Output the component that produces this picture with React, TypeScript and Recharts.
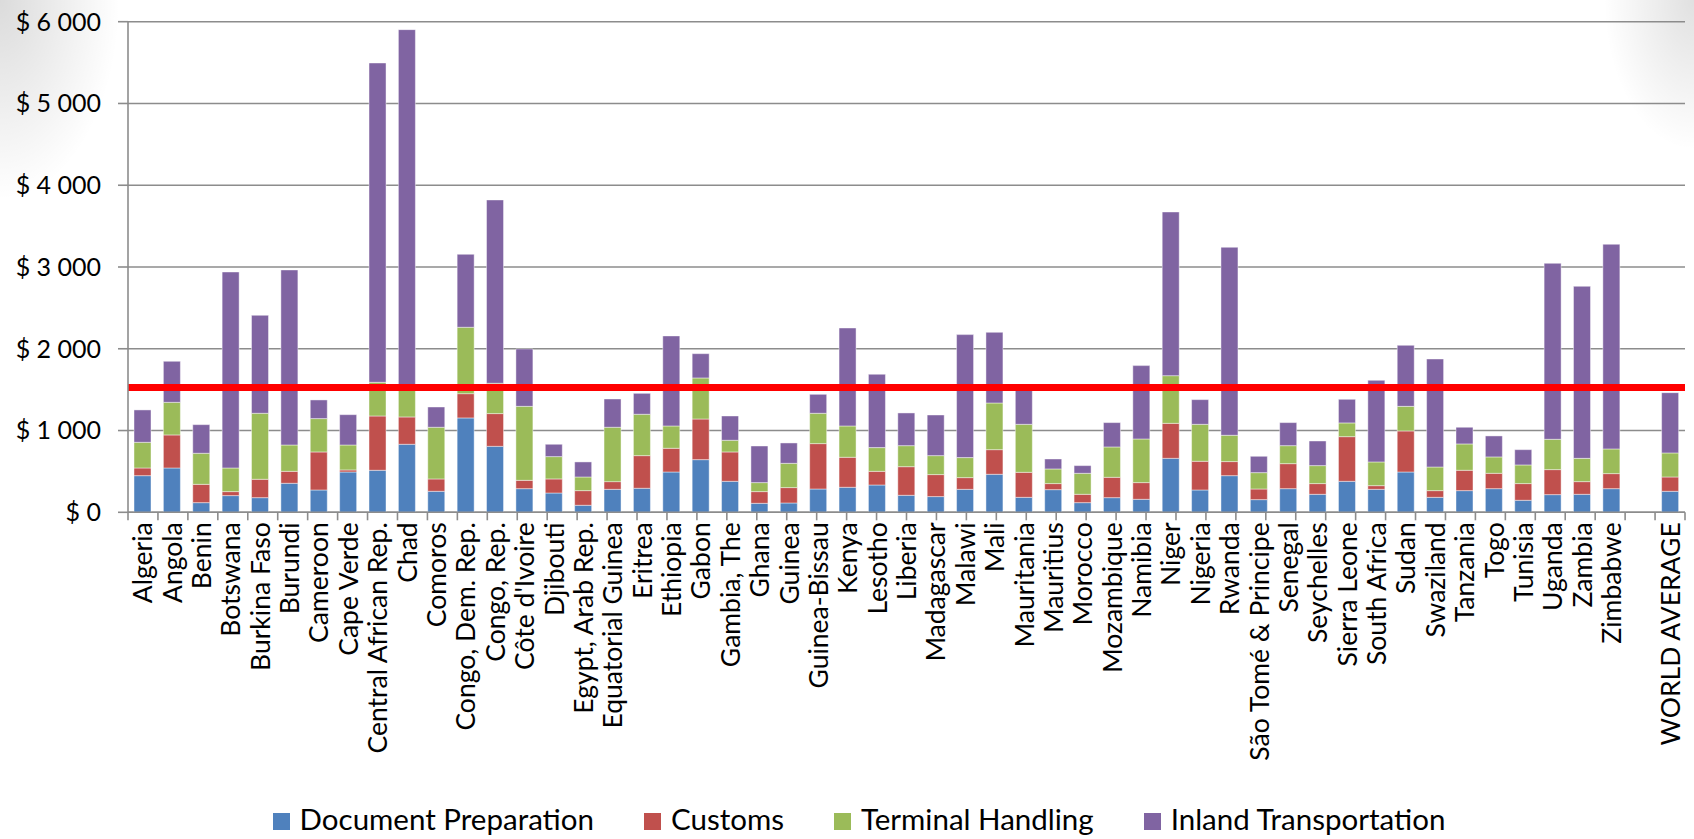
import React from 'react';
import {
  BarChart,
  Bar,
  XAxis,
  YAxis,
  CartesianGrid,
  Legend,
  ReferenceLine,
} from 'recharts';

const categories = [
  'Algeria', 'Angola', 'Benin', 'Botswana', 'Burkina Faso', 'Burundi', 'Cameroon', 'Cape Verde',
  'Central African Rep.', 'Chad', 'Comoros', 'Congo, Dem. Rep.', 'Congo, Rep.', "Côte d'Ivoire",
  'Djibouti', 'Egypt, Arab Rep.', 'Equatorial Guinea', 'Eritrea', 'Ethiopia', 'Gabon', 'Gambia, The',
  'Ghana', 'Guinea', 'Guinea-Bissau', 'Kenya', 'Lesotho', 'Liberia', 'Madagascar', 'Malawi', 'Mali',
  'Mauritania', 'Mauritius', 'Morocco', 'Mozambique', 'Namibia', 'Niger', 'Nigeria', 'Rwanda',
  'São Tomé & Principe', 'Senegal', 'Seychelles', 'Sierra Leone', 'South Africa', 'Sudan',
  'Swaziland', 'Tanzania', 'Togo', 'Tunisia', 'Uganda', 'Zambia', 'Zimbabwe', '', 'WORLD AVERAGE',
];

const documentPreparation = [
  448, 542, 118, 204, 179, 355, 273, 493, 514, 832, 257, 1154, 807, 289, 236, 86, 281, 294, 493, 644,
  379, 110, 114, 285, 306, 334, 208, 192, 281, 465, 183, 277, 118, 179, 159, 660, 273, 448, 155, 289,
  220, 379, 281, 493, 183, 265, 289, 147, 216, 220, 289, null, 257,
];

const customs = [
  94, 404, 224, 49, 225, 146, 465, 25, 664, 334, 151, 297, 400, 102, 172, 179, 94, 399, 290, 497,
  359, 143, 188, 555, 367, 167, 350, 269, 143, 301, 306, 74, 102, 249, 204, 428, 351, 172, 130, 306,
  131, 546, 45, 502, 82, 249, 188, 204, 306, 155, 184, null, 175,
];

const terminalHandling = [
  314, 399, 380, 289, 807, 322, 408, 305, 412, 391, 632, 812, 371, 905, 273, 167, 665, 506, 273, 502,
  143, 110, 297, 371, 383, 290, 257, 232, 245, 571, 587, 179, 257, 371, 534, 583, 452, 322, 200, 220,
  220, 168, 290, 301, 289, 322, 200, 228, 371, 285, 302, null, 294,
];

const inlandTransportation = [
  396, 502, 350, 2397, 1198, 2141, 228, 371, 3905, 4346, 248, 892, 2242, 702, 151, 184, 346, 256, 1101, 297,
  297, 448, 249, 232, 1198, 897, 400, 497, 1504, 864, 424, 122, 94, 298, 897, 2002, 302, 2299, 200, 282,
  301, 289, 998, 746, 1321, 204, 257, 187, 2152, 2104, 2503, null, 737,
];

const yTicks = [0, 1000, 2000, 3000, 4000, 5000, 6000];
const benchmark = 1525;

const seriesNames = ['Document Preparation', 'Customs', 'Terminal Handling', 'Inland Transportation'];
const seriesKeys = ['doc', 'customs', 'terminal', 'inland'];
const seriesColors = ['#4F81BD', '#C0504D', '#9BBB59', '#8064A2'];

const data = categories.map((name, i) => ({
  name,
  doc: documentPreparation[i],
  customs: customs[i],
  terminal: terminalHandling[i],
  inland: inlandTransportation[i],
}));

const boundaryTicks = Array.from({ length: categories.length + 1 }, (_, i) => i);

const FONT = 'Lato, "Open Sans", sans-serif';
const GRID = '#8C8C8C';

const fmt = (v: number) => '$ ' + String(v).replace(/\B(?=(\d{3})+(?!\d))/g, ' ');

const EmptyTick = () => <g />;

const CategoryTick = (props: any) => {
  const { x, y, payload } = props;
  return (
    <text
      x={0}
      y={0}
      dy="0.36em"
      transform={`translate(${x},${y + 2}) rotate(-90)`}
      textAnchor="end"
      fontFamily={FONT}
      fontSize={26.5}
      fill="#000"
    >
      {payload.value}
    </text>
  );
};

const LegendContent = () => (
  <div
    style={{
      display: 'flex',
      justifyContent: 'center',
      alignItems: 'center',
      fontFamily: FONT,
      fontSize: 29.5,
      color: '#000',
      paddingLeft: 24,
    }}
  >
    {seriesNames.map((n, i) => (
      <div key={n} style={{ display: 'flex', alignItems: 'center', marginRight: i < 3 ? 50 : 0 }}>
        <span style={{ display: 'inline-block', width: 17, height: 17, background: seriesColors[i], marginRight: 10, marginTop: 4 }} />
        <span style={{ lineHeight: '30px' }}>{n}</span>
      </div>
    ))}
  </div>
);

export default function App() {
  return (
    <div
      style={{
        position: 'absolute',
        left: 0,
        top: 0,
        width: 1694,
        height: 839,
        background:
          'radial-gradient(ellipse 120px 200px at 0px 0px, rgba(0,0,0,0.14), rgba(0,0,0,0) 100%), radial-gradient(ellipse 90px 150px at 1694px 0px, rgba(0,0,0,0.12), rgba(0,0,0,0) 100%), #ffffff',
      }}
    >
      <BarChart
        width={1694}
        height={839}
        data={data}
        margin={{ top: 21.7, right: 9, left: 0, bottom: 78.7 }}
        barSize={17}
      >
        <CartesianGrid xAxisId="b_cat" vertical={false} stroke={GRID} strokeWidth={1.6} />
        <XAxis
          xAxisId="a_grid"
          type="number"
          domain={[0, categories.length]}
          ticks={boundaryTicks}
          allowDataOverflow
          interval={0}
          height={8}
          tickSize={8}
          tick={EmptyTick}
          axisLine={{ stroke: GRID, strokeWidth: 1.6 }}
          tickLine={{ stroke: GRID, strokeWidth: 1.6 }}
        />
        <XAxis
          xAxisId="b_cat"
          dataKey="name"
          type="category"
          interval={0}
          height={240}
          tickSize={0}
          tickMargin={0}
          axisLine={false}
          tickLine={false}
          tick={<CategoryTick />}
        />
        <YAxis
          width={128}
          domain={[0, 6000]}
          ticks={yTicks}
          interval={0}
          tickSize={10}
          tickMargin={17}
          tickFormatter={fmt}
          axisLine={{ stroke: GRID, strokeWidth: 1.6 }}
          tickLine={{ stroke: GRID, strokeWidth: 1.6 }}
          tick={{ fontFamily: FONT, fontSize: 25, fill: '#000' }}
        />
        {seriesKeys.map((k, i) => (
          <Bar
            key={k}
            xAxisId="b_cat"
            dataKey={k}
            name={seriesNames[i]}
            stackId="a"
            fill={seriesColors[i]}
            stroke="rgba(255,255,255,0.55)"
            strokeWidth={0.8}
            isAnimationActive={false}
          />
        ))}
        <ReferenceLine xAxisId="b_cat" y={benchmark} stroke="#FF0000" strokeWidth={7} />
        <Legend
          verticalAlign="middle"
          align="center"
          layout="horizontal"
          content={<LegendContent />}
          wrapperStyle={{ position: 'absolute', top: 804, left: 0, width: 1694, height: 30 }}
        />
      </BarChart>
    </div>
  );
}
